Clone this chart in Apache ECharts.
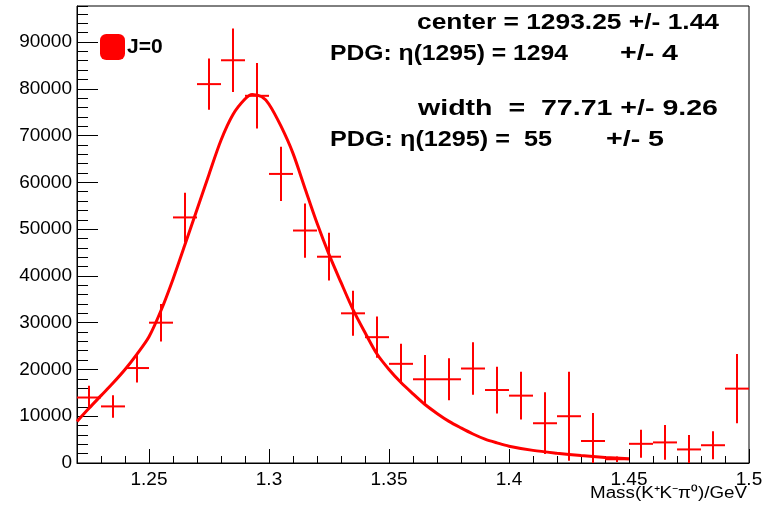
<!DOCTYPE html>
<html><head><meta charset="utf-8">
<script src="https://cdn.jsdelivr.net/npm/echarts@6/dist/echarts.min.js"></script>
<style>html,body{margin:0;padding:0;background:#fff}#c{width:771px;height:507px}</style>
</head><body><div id="c"></div>
<script>
// ---- data ----
const binCenters = [1.225,1.235,1.245,1.255,1.265,1.275,1.285,1.295,1.305,1.315,1.325,1.335,1.345,1.355,
                    1.365,1.375,1.385,1.395,1.405,1.415,1.425,1.435,1.445,1.455,1.465,1.475,1.485,1.495];
const binValues  = [14000,12100,20300,30000,52500,81000,86100,78500,61800,49700,44100,32000,26900,21200,
                    17900,17900,20200,15600,14400,8500,10000,4700,800,4100,4400,2900,3800,15900];
const binErrors  = [2500,2400,3100,4000,5300,5500,6800,7000,5800,5800,5100,4800,4400,4300,
                    5200,4500,5600,5000,5100,6600,9500,6000,600,3000,3700,3100,3000,7400];
const binHalfWidth = 0.005;
const fitX = [1.220,1.225,1.230,1.235,1.240,1.245,1.250,1.255,1.260,1.265,1.270,1.275,1.280,1.285,1.290,1.293,
              1.297,1.300,1.305,1.310,1.315,1.320,1.325,1.330,1.335,1.340,1.345,1.350,1.355,1.360,1.365,1.370,
              1.375,1.380,1.385,1.390,1.395,1.400,1.410,1.420,1.430,1.440,1.450];
const fitY = [8900,11700,14400,17100,20000,23300,27000,32600,39300,46700,54200,61700,69000,74500,77800,78800,
              78300,76700,72000,66200,58700,51300,44600,38600,32800,27900,23300,20000,17200,14800,12500,10600,
              8900,7500,6200,5100,4300,3600,2700,2100,1600,1200,900];
const legendName = 'J=0';
const xAxisTitle = 'Mass(K\u207AK\u207B\u03C0\u2070)/GeV';
const noteTexts = ['center = 1293.25 +/- 1.44', 'PDG: \u03B7(1295) = 1294', '+/- 4',
                   'width  =  77.71 +/- 9.26', 'PDG: \u03B7(1295) =  55', '+/- 5'];

// ---- chart ----
const RED = '#ff0000';
const FONT = "'Liberation Sans', Arial, Helvetica, sans-serif";
const mctx = document.createElement('canvas').getContext('2d');
function fitText(text, left, cy, width, size, weight, alignRight) {
  const font = weight + ' ' + size + 'px ' + FONT;
  mctx.font = font;
  const w = mctx.measureText(text).width;
  const sx = width / w;
  return {
    type: 'text', x: alignRight ? left - width : left, y: cy, scaleX: sx, originX: 0, originY: 0,
    style: { text: text, font: font, fill: '#000', verticalAlign: 'middle', align: 'left' },
    z: 100
  };
}

const chart = echarts.init(document.getElementById('c'), null, { renderer: 'canvas' });
const errData = binCenters.map((x, i) => [x, binValues[i], binErrors[i]]);
const fitData = fitX.map((x, i) => [x, fitY[i]]);
const axisBlack = { color: '#000', width: 1 };

chart.setOption({
  animation: false,
  backgroundColor: '#fff',
  grid: { left: 77, right: 22, top: 6, bottom: 44, containLabel: false, outerBoundsMode: 'none',
          show: true, borderColor: '#000', borderWidth: 1, backgroundColor: 'transparent' },
  legend: {
    left: 95, top: 29, itemWidth: 25, itemHeight: 26,
    data: [{ name: legendName, icon: 'roundRect', itemStyle: { color: RED } }],
    textStyle: { fontFamily: FONT, fontWeight: 'bold', fontSize: 21, color: '#000', padding: [0, 0, 0, -3] },
    selectedMode: false
  },
  xAxis: [
    {
      type: 'value', min: 1.22, max: 1.5, splitNumber: 5,
      axisLine: { show: true, onZero: false, lineStyle: axisBlack },
      axisTick: { show: true, inside: true, length: 14, lineStyle: axisBlack },
      splitLine: { show: false },
      axisLabel: { showMinLabel: false, margin: 7, fontFamily: FONT, fontSize: 19, color: '#000',
        formatter: v => String(+v.toFixed(2)) }
    },
    {
      type: 'value', min: 1.22, max: 1.5, interval: 0.01, position: 'bottom',
      axisLine: { show: false, onZero: false },
      axisTick: { show: true, inside: true, length: 7, lineStyle: axisBlack },
      splitLine: { show: false }, axisLabel: { show: false }
    }
  ],
  yAxis: [
    {
      type: 'value', min: 0, max: 97700, interval: 10000,
      axisLine: { show: true, onZero: false, lineStyle: axisBlack },
      axisTick: { show: true, inside: true, length: 21, lineStyle: axisBlack },
      splitLine: { show: false },
      axisLabel: { showMaxLabel: false, margin: 5, fontFamily: FONT, fontSize: 19, color: '#000',
        formatter: v => String(Math.round(v)) }
    },
    {
      type: 'value', min: 0, max: 97700, interval: 2000, position: 'left',
      axisLine: { show: false, onZero: false },
      axisTick: { show: true, inside: true, length: 11, lineStyle: axisBlack },
      splitLine: { show: false }, axisLabel: { show: false }
    }
  ],
  series: [
    {
      type: 'line', data: fitData, smooth: 0.3, showSymbol: false, symbol: 'none',
      lineStyle: { color: RED, width: 3 }, itemStyle: { color: RED }, z: 2, silent: true
    },
    {
      name: legendName, type: 'custom', data: errData, clip: true,
      encode: { x: 0, y: 1 }, itemStyle: { color: RED }, z: 3,
      renderItem: function (params, api) {
        const x = api.value(0), y = api.value(1), e = api.value(2);
        const cs = params.coordSys;
        const cy = v => Math.max(cs.y, Math.min(cs.y + cs.height, v));
        const cx = v => Math.max(cs.x, Math.min(cs.x + cs.width, v));
        const pL = api.coord([x - binHalfWidth, y]);
        const pR = api.coord([x + binHalfWidth, y]);
        const pT = api.coord([x, y + e]);
        const pB = api.coord([x, y - e]);
        return { type: 'group', children: [
          { type: 'line', shape: { x1: cx(pL[0]), y1: pL[1], x2: cx(pR[0]), y2: pR[1] }, style: { stroke: RED, lineWidth: 2 } },
          { type: 'line', shape: { x1: pT[0], y1: cy(pT[1]), x2: pB[0], y2: cy(pB[1]) }, style: { stroke: RED, lineWidth: 2 } }
        ] };
      }
    }
  ],
  graphic: [
    fitText(noteTexts[0], 417, 23, 302, 22, 'bold'),
    fitText(noteTexts[1], 330, 54, 238, 22, 'bold'),
    fitText(noteTexts[2], 620, 54, 58, 22, 'bold'),
    fitText(noteTexts[3], 418, 109, 300, 22, 'bold'),
    fitText(noteTexts[4], 330, 140, 222, 22, 'bold'),
    fitText(noteTexts[5], 606, 140, 58, 22, 'bold'),
    fitText(xAxisTitle, 747, 494, 157, 16, 'normal', true)
  ]
});
</script>
</body></html>
